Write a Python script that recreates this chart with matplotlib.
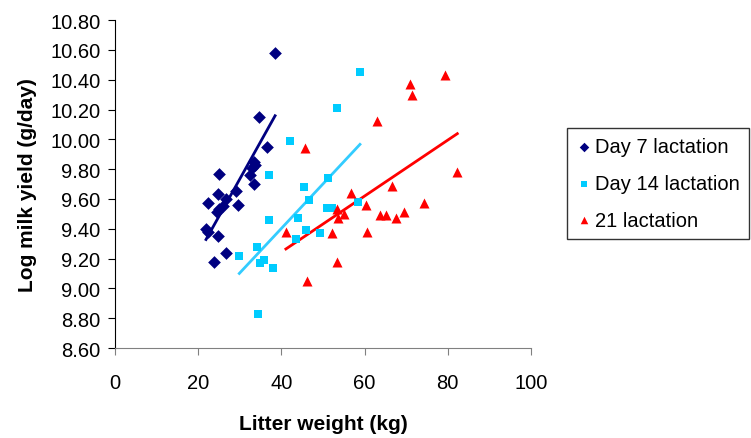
import numpy as np
import matplotlib
matplotlib.use('Agg')
import matplotlib.pyplot as plt

plt.rcParams['font.family'] = ['Liberation Sans', 'DejaVu Sans']

# Day 7 lactation
d7_x = [21.9, 22.4, 22.4, 23.9, 24.6, 24.7, 24.8, 25.1, 25.1, 25.9, 26.6, 26.7,
        29.0, 29.7, 32.5, 33.0, 33.4, 33.5, 33.7, 34.6, 36.5, 38.5]
d7_y = [9.40, 9.57, 9.38, 9.18, 9.51, 9.63, 9.35, 9.77, 9.53, 9.55, 9.60, 9.24,
        9.65, 9.56, 9.76, 9.81, 9.85, 9.70, 9.83, 10.15, 9.95, 10.58]

# Day 14 lactation
d14_x = [29.9, 34.1, 34.5, 34.9, 35.8, 37.1, 37.1, 37.9, 42.1, 43.5, 44.1,
         45.5, 45.9, 46.6, 49.3, 50.9, 51.3, 52.1, 53.5, 58.5, 58.9]
d14_y = [9.22, 9.28, 8.83, 9.17, 9.19, 9.76, 9.46, 9.14, 9.99, 9.33, 9.47,
         9.68, 9.39, 9.59, 9.37, 9.54, 9.74, 9.54, 10.21, 9.58, 10.45]

# 21 lactation
d21_x = [41.1, 45.7, 46.1, 52.2, 53.3, 53.3, 53.7, 55.0, 56.7, 60.3, 60.7,
         63.1, 63.7, 65.1, 66.7, 67.5, 69.5, 70.9, 71.3, 74.3, 79.3, 82.3]
d21_y = [9.38, 9.94, 9.05, 9.37, 9.53, 9.18, 9.47, 9.50, 9.64, 9.56, 9.38,
         10.12, 9.49, 9.49, 9.69, 9.47, 9.51, 10.37, 10.30, 9.57, 10.43, 9.78]

series = [
    ('Day 7 lactation', d7_x, d7_y, 'D', '#000080', '#000080', 42),
    ('Day 14 lactation', d14_x, d14_y, 's', '#00CCFF', '#33CCFF', 36),
    ('21 lactation', d21_x, d21_y, '^', '#FF0000', '#FF0000', 52),
]

fig = plt.figure(figsize=(7.51, 4.39), dpi=100)
ax = fig.add_axes([0.153, 0.205, 0.554, 0.747])

for name, xs, ys, mk, col, lcol, sz in series:
    xs = np.array(xs)
    ys = np.array(ys)
    ax.scatter(xs, ys, marker=mk, s=sz, color=col, label=name, zorder=3, linewidths=0)
    # linear trend line over the data range
    k, b = np.polyfit(xs, ys, 1)
    lx = np.array([xs.min(), xs.max()])
    ax.plot(lx, k * lx + b, color=lcol, lw=2, zorder=2)

ax.set_xlim(0, 100)
ax.set_ylim(8.6, 10.8)
ax.set_xticks(np.arange(0, 101, 20))
yt = np.arange(8.6, 10.81, 0.2)
ax.set_yticks(yt)
ax.set_yticklabels(['%.2f' % v for v in yt])
ax.tick_params(axis='x', labelsize=14.5, direction='out', length=5, color='#808080', pad=13)
ax.tick_params(axis='y', labelsize=14.5, direction='out', length=5, color='black', pad=5.5)
ax.spines['top'].set_visible(False)
ax.spines['right'].set_visible(False)
ax.spines['left'].set_color('black')
ax.spines['bottom'].set_color('#808080')

ax.set_xlabel('Litter weight (kg)', fontsize=15, fontweight='bold', labelpad=16)
ax.set_ylabel('Log milk yield (g/day)', fontsize=15, fontweight='bold', labelpad=9.5)

leg = ax.legend(loc='upper left', bbox_to_anchor=(1.0865, 0.6707), borderaxespad=0,
                fontsize=14.5, frameon=True, fancybox=False, edgecolor='black',
                handletextpad=0.15, handlelength=0.8, markerscale=0.75,
                borderpad=0.45, labelspacing=0.88)
leg.get_frame().set_linewidth(1)

fig.savefig('out.png', dpi=100)
